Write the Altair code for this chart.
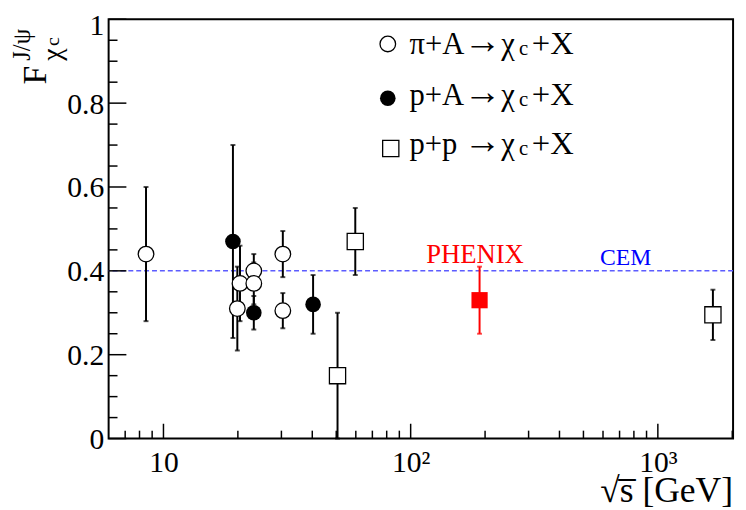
import altair as alt
import pandas as pd

# ---------------- data ----------------
pia_x = [8.5, 19.9, 20.4, 23.2, 23.2, 30.4, 30.4]
pia_y = [0.44, 0.31, 0.37, 0.40, 0.37, 0.44, 0.305]
pia_err = [0.16, 0.10, 0.09, 0.04, 0.05, 0.055, 0.042]

pa_x = [19.1, 23.2, 40.3]
pa_y = [0.47, 0.30, 0.32]
pa_err = [0.23, 0.04, 0.07]

pp_x = [50.6, 59.7, 1670]
pp_y = [0.15, 0.47, 0.295]
pp_err = [0.15, 0.08, 0.06]

phenix_x = [190]
phenix_y = [0.33]
phenix_err = [0.08]

cem_value = [0.4]

x_major = [10, 100, 1000]
x_major_labels = ["10", "10²", "10³"]
x_minor = [7, 8, 9, 20, 30, 40, 50, 60, 70, 80, 90,
           200, 300, 400, 500, 600, 700, 800, 900, 2000]
y_major = [0, 0.2, 0.4, 0.6, 0.8, 1.0]
y_minor = [0.05, 0.1, 0.15, 0.25, 0.3, 0.35, 0.45, 0.5, 0.55,
           0.65, 0.7, 0.75, 0.85, 0.9, 0.95]

legend_beams = ["π+A", "p+A", "p+p"]

# ---------------- layout ----------------
W, H = 633, 425
FONT = "Liberation Serif"

label_expr = "'" + x_major_labels[-1] + "'"
for v, l in reversed(list(zip(x_major[:-1], x_major_labels[:-1]))):
    label_expr = f"datum.value == {v} ? '{l}' : " + label_expr

xscale = alt.Scale(type="log", domain=[6, 2015], nice=False)
yscale = alt.Scale(domain=[0, 1], nice=False, zero=False)
xaxis = alt.Axis(values=x_major, labelExpr=label_expr, ticks=False, domain=False,
                 grid=False, labelFont=FONT, labelFontSize=30, labelColor="black",
                 labelPadding=9, title=None, labelFlush=False, labelOverlap=False)
yaxis = alt.Axis(values=y_major, format="~g", ticks=False, domain=False, grid=False,
                 labelFont=FONT, labelFontSize=30, labelColor="black",
                 labelBaseline="middle",
                 labelOffset=alt.condition("datum.value == 1", alt.value(6), alt.value(1)),
                 labelPadding=5, title=None, labelFlush=False, labelOverlap=False)


def X(f):
    return alt.X(f, type="quantitative", scale=xscale, axis=xaxis)


def Y(f):
    return alt.Y(f, type="quantitative", scale=yscale, axis=yaxis)


rows = []
for name, xs, ys, es in [("piA", pia_x, pia_y, pia_err), ("pA", pa_x, pa_y, pa_err),
                         ("pp", pp_x, pp_y, pp_err), ("PHENIX", phenix_x, phenix_y, phenix_err)]:
    for xv, yv, ev in zip(xs, ys, es):
        rows.append(dict(series=name, x=xv, y=yv, lo=max(yv - ev, 0), hi=yv + ev,
                         col="#ff0000" if name == "PHENIX" else "black"))
df = pd.DataFrame(rows)

cem = alt.Chart(pd.DataFrame({"y": cem_value})).mark_rule(
    color="#5c5cff", strokeDash=[5, 3], strokeWidth=1.5).encode(y=Y("y"))

err = alt.Chart(df).mark_rule(strokeWidth=2).encode(
    x=X("x"), y=Y("lo"), y2="hi", color=alt.Color("col:N", scale=None))
cap_lo = alt.Chart(df).mark_tick(orient="horizontal", size=5, thickness=2).encode(
    x=X("x"), y=Y("lo"), color=alt.Color("col:N", scale=None))
cap_hi = alt.Chart(df).mark_tick(orient="horizontal", size=5, thickness=2).encode(
    x=X("x"), y=Y("hi"), color=alt.Color("col:N", scale=None))

CIRC = 250
SQ = 270
open_c = alt.Chart(df[df.series == "piA"]).mark_point(
    shape="circle", filled=True, fill="white", stroke="black", strokeWidth=1.3,
    size=CIRC, opacity=1).encode(x=X("x"), y=Y("y"))
full_c = alt.Chart(df[df.series == "pA"]).mark_point(
    shape="circle", filled=True, color="black", size=CIRC, opacity=1).encode(x=X("x"), y=Y("y"))
open_s = alt.Chart(df[df.series == "pp"]).mark_point(
    shape="square", filled=True, fill="white", stroke="black", strokeWidth=1.3,
    size=SQ, opacity=1).encode(x=X("x"), y=Y("y"))
phen_s = alt.Chart(df[df.series == "PHENIX"]).mark_point(
    shape="square", filled=True, color="#ff0000", size=SQ, opacity=1).encode(x=X("x"), y=Y("y"))

# ticks (inside the frame, ROOT style)
xt_maj = alt.Chart(pd.DataFrame({"v": x_major})).mark_rule(color="black", strokeWidth=1.5).encode(
    x=X("v"), y=alt.value(H), y2=alt.value(H - 15))
xt_min = alt.Chart(pd.DataFrame({"v": x_minor})).mark_rule(color="black", strokeWidth=1.5).encode(
    x=X("v"), y=alt.value(H), y2=alt.value(H - 8))
yt_maj = alt.Chart(pd.DataFrame({"v": y_major})).mark_rule(color="black", strokeWidth=1.5).encode(
    y=Y("v"), x=alt.value(0), x2=alt.value(18))
yt_min = alt.Chart(pd.DataFrame({"v": y_minor})).mark_rule(color="black", strokeWidth=1.5).encode(
    y=Y("v"), x=alt.value(0), x2=alt.value(9))

# annotations
phen_t = alt.Chart(pd.DataFrame({"x": [182], "y": [0.419], "t": ["PHENIX"]})).mark_text(
    font=FONT, fontSize=27, color="#ff0000", align="center", baseline="alphabetic").encode(
    x=X("x"), y=Y("y"), text="t:N")
cem_t = alt.Chart(pd.DataFrame({"x": [740], "y": [0.414], "t": ["CEM"]})).mark_text(
    font=FONT, fontSize=24, color="#0000ff", align="center", baseline="alphabetic").encode(
    x=X("x"), y=Y("y"), text="t:N")


def txt(t, x, y, size, angle=0, align="left", color="black"):
    kw = dict(font=FONT, fontSize=size, color=color, align=align, baseline="alphabetic")
    if angle:
        kw["angle"] = angle
    return alt.Chart(pd.DataFrame({"t": [t]})).mark_text(**kw).encode(
        x=alt.value(x), y=alt.value(y), text="t:N")


ytitle = [txt("F", -63, 66, 34, 270), txt("J/ψ", -80, 42, 25, 270),
          txt("χ", -48, 42, 28, 270), txt("c", -50, 27, 20, 270)]
xtitle = [txt("√s\u0305  [GeV]", 633, 489, 36, 0, "right")]

# legend
leg = []
row_sym_y = [25, 80, 131]
row_txt_y = [35, 87, 137]
leg.append(alt.Chart(pd.DataFrame({"a": [0]})).mark_point(
    shape="circle", filled=True, fill="white", stroke="black", strokeWidth=1.3, size=CIRC, opacity=1
).encode(x=alt.value(283), y=alt.value(row_sym_y[0])))
leg.append(alt.Chart(pd.DataFrame({"a": [0]})).mark_point(
    shape="circle", filled=True, color="black", size=CIRC, opacity=1
).encode(x=alt.value(283), y=alt.value(row_sym_y[1])))
leg.append(alt.Chart(pd.DataFrame({"a": [0]})).mark_point(
    shape="square", filled=True, fill="white", stroke="black", strokeWidth=1.3, size=SQ, opacity=1
).encode(x=alt.value(286), y=alt.value(row_sym_y[2])))
for lab, ty in zip(legend_beams, row_txt_y):
    leg.append(txt(lab, 305, ty, 31))
    leg.append(txt("→", 379, ty - 1, 38, 0, "center"))
    leg.append(txt("χ", 398, ty, 31))
    leg.append(txt("c", 416, ty + 1, 21))
    leg.append(txt("+X", 429, ty, 33))

chart = alt.layer(
    cem, err, cap_lo, cap_hi, open_c, full_c, open_s, phen_s,
    xt_maj, xt_min, yt_maj, yt_min, phen_t, cem_t, *ytitle, *xtitle, *leg
).properties(
    width=W, height=H,
    autosize=alt.AutoSizeParams(type="none"),
    padding={"left": 102, "top": 8, "right": 5, "bottom": 70},
).configure_view(stroke="black", strokeWidth=2)

chart.save("out.html", embed_options={"renderer": "svg", "actions": False})
